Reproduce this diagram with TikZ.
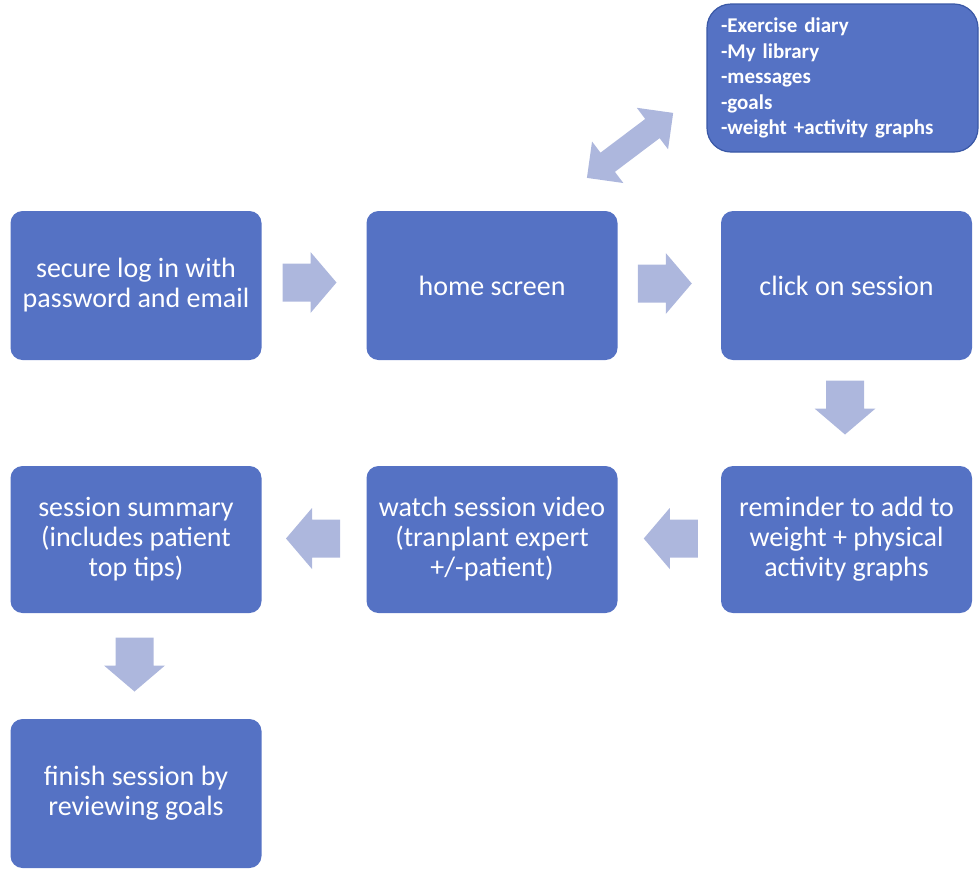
\documentclass[tikz,border=0pt]{standalone}
\usepackage{fontspec}
\setmainfont{Carlito}
\usetikzlibrary{calc}
\definecolor{boxblue}{HTML}{5572C4}
\definecolor{boxedge}{HTML}{3A58A6}
\definecolor{arrowblue}{HTML}{ADB7DD}
\tikzset{
  x=1pt,y=-1pt,
  stepbox/.style={rectangle,rounded corners=12pt,fill=boxblue,text=white,
    minimum width=251pt,minimum height=149pt,align=center,inner sep=0pt,
    font=\fontsize{28}{30}\selectfont},
  listbox/.style={rectangle,rounded corners=24pt,fill=boxblue,draw=boxedge,line width=1.2pt,
    text=white,minimum width=271pt,minimum height=148pt,align=left,text width=243pt,
    inner sep=0pt,font=\bfseries\fontsize{21}{25.5}\selectfont},
  pics/blockarrow/.style={code={
    \fill[arrowblue] (-27,-19) -- (1,-19) -- (1,-30.5) -- (27,0) -- (1,30.5) -- (1,19) -- (-27,19) -- cycle;}},
  pics/dblarrow/.style={code={
    \fill[arrowblue] (-54,0) -- (-28,-26) -- (-28,-12) -- (28,-12) -- (28,-26) -- (54,0)
      -- (28,26) -- (28,12) -- (-28,12) -- (-28,26) -- cycle;}}
}
\begin{document}
\begin{tikzpicture}
\useasboundingbox (0,0) rectangle (980,868);
\node[stepbox] (login) at (136,285.5) {secure log in with\\password and email};
\node[stepbox] (home) at (492,285.5) {home screen};
\node[stepbox] (click) at (846.5,285.5) {click on session};
\node[stepbox,minimum height=147pt] (remind) at (846.5,539.5) {reminder to add to\\weight + physical\\activity graphs};
\node[stepbox,minimum height=147pt] (watch) at (492,539.5) {watch session video\\(tranplant expert\\+/-patient)};
\node[stepbox,minimum height=147pt] (summary) at (136,539.5) {session summary\\(includes patient\\top tips)};
\node[stepbox] (finish) at (136,793.5) {finish session by\\reviewing goals};
\node[listbox] (menu) at (842.5,78) {-Exercise diary\\-My library\\-messages\\-goals\\-weight +activity graphs};
% connectors (block arrows placed between the named boxes)
\coordinate (c1) at ($(login.east)!0.5!(home.west)+(-4.5,-3)$);
\coordinate (c2) at ($(home.east)!0.5!(click.west)+(-4.5,-2)$);
\coordinate (c3) at ($(click.south)!0.5!(remind.north)+(-1.5,-5.5)$);
\coordinate (c4) at ($(remind.west)!0.5!(watch.east)+(1.5,-1)$);
\coordinate (c5) at ($(watch.west)!0.5!(summary.east)+(-1,-1)$);
\coordinate (c6) at ($(summary.south)!0.5!(finish.north)+(-1.5,-1.5)$);
\coordinate (c7) at ($(home.north east)!0.5!(menu.west)+(-32,1)$);
\pic at (c1) {blockarrow};
\pic at (c2) {blockarrow};
\pic[rotate=-90] at (c3) {blockarrow};
\pic[rotate=180] at (c4) {blockarrow};
\pic[rotate=180] at (c5) {blockarrow};
\pic[rotate=-90] at (c6) {blockarrow};
\pic[rotate=37] at (c7) {dblarrow};
\end{tikzpicture}
\end{document}
